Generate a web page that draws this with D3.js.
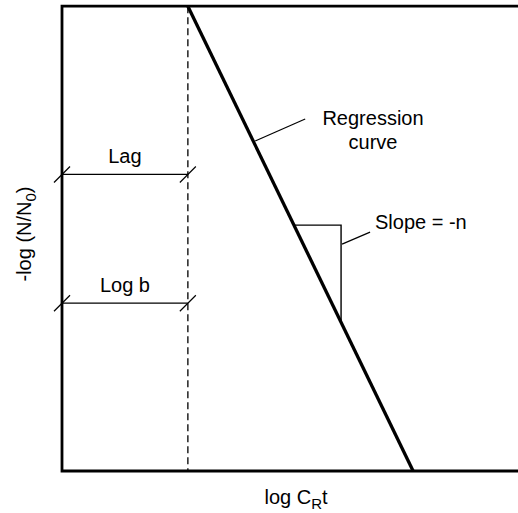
<!DOCTYPE html>
<html>
<head>
<meta charset="utf-8">
<script src="https://cdn.jsdelivr.net/npm/d3@7"></script>
<style>
  body { margin: 0; background: #fff; }
  text { font-family: "Liberation Sans", Arial, sans-serif; fill: #000; }
</style>
</head>
<body>
<div id="chart"></div>
<script>
// schematic values, arbitrary units (0..10 on both axes)
const LAG = 2.76;
const REGRESSION_X = [LAG, 7.7];
const REGRESSION_Y = [10, 0];
const MARKER_LABELS = ["Lag", "Log b"];
const MARKER_Y = [6.38, 3.61];
const SLOPE_X = [5.11, 6.12];
const SLOPE_TOP = 5.29;

const WIDTH = 518;
const HEIGHT = 513;
const LEFT = 62;
const TOP = 6;
const BOTTOM = 471;
const FONT = "20px";
const SUB = "15px";

const x = d3.scaleLinear().domain([0, 10]).range([LEFT, LEFT + 456]);
const y = d3.scaleLinear().domain([0, 10]).range([BOTTOM, TOP + 0.2]);

// position on the regression line
function lineY(v) {
  const t = (v - REGRESSION_X[0]) / (REGRESSION_X[1] - REGRESSION_X[0]);
  return REGRESSION_Y[0] + t * (REGRESSION_Y[1] - REGRESSION_Y[0]);
}
function lineX(v) {
  const t = (v - REGRESSION_Y[0]) / (REGRESSION_Y[1] - REGRESSION_Y[0]);
  return REGRESSION_X[0] + t * (REGRESSION_X[1] - REGRESSION_X[0]);
}

const svg = d3.select("#chart").append("svg")
    .attr("width", WIDTH)
    .attr("height", HEIGHT);

// dashed lag line
svg.append("line")
    .attr("x1", x(LAG)).attr("x2", x(LAG))
    .attr("y1", y(10)).attr("y2", y(0))
    .attr("stroke", "#222")
    .attr("stroke-width", 1.5)
    .attr("stroke-dasharray", "7,4");

// frame: left, top and bottom
svg.append("path")
    .attr("d", `M${WIDTH},${y(10)}H${x(0)}V${y(0)}H${WIDTH}`)
    .attr("fill", "none")
    .attr("stroke", "#000")
    .attr("stroke-width", 2.8);

// regression line
const line = d3.line().x(d => x(d[0])).y(d => y(d[1]));
svg.append("path")
    .attr("d", line(REGRESSION_X.map((d, i) => [d, REGRESSION_Y[i]])))
    .attr("fill", "none")
    .attr("stroke", "#000")
    .attr("stroke-width", 3.3);

// Lag / Log b dimension markers
const marker = svg.selectAll("g.marker")
  .data(MARKER_Y)
  .enter().append("g")
    .attr("class", "marker");

marker.append("line")
    .attr("x1", x(0)).attr("x2", x(LAG))
    .attr("y1", d => y(d)).attr("y2", d => y(d))
    .attr("stroke", "#000")
    .attr("stroke-width", 1.2);

[0, LAG].forEach(v => {
  marker.append("line")
      .attr("x1", x(v) - 8).attr("x2", x(v) + 8)
      .attr("y1", d => y(d) + 8).attr("y2", d => y(d) - 8)
      .attr("stroke", "#000")
      .attr("stroke-width", 1.2);
});

marker.append("text")
    .text((d, i) => MARKER_LABELS[i])
    .attr("x", x(LAG / 2))
    .attr("y", d => y(d) - 11)
    .attr("text-anchor", "middle")
    .style("font-size", FONT);

// slope triangle
const slopeBottom = lineY(SLOPE_X[1]);
svg.append("path")
    .attr("d", `M${x(lineX(SLOPE_TOP))},${y(SLOPE_TOP)}H${x(SLOPE_X[1])}V${y(slopeBottom)}`)
    .attr("fill", "none")
    .attr("stroke", "#000")
    .attr("stroke-width", 1.4);

// annotation leaders
const regLeaderY = 7.1;
svg.append("line")
    .attr("x1", x(lineX(regLeaderY)) + 2).attr("y1", y(regLeaderY))
    .attr("x2", x(lineX(regLeaderY)) + 52).attr("y2", y(regLeaderY) - 22)
    .attr("stroke", "#000")
    .attr("stroke-width", 1.2);

svg.append("line")
    .attr("x1", x(SLOPE_X[1]) + 1).attr("y1", y(SLOPE_TOP) + 19)
    .attr("x2", x(SLOPE_X[1]) + 29).attr("y2", y(SLOPE_TOP) + 7)
    .attr("stroke", "#000")
    .attr("stroke-width", 1.2);

const reg = svg.append("text")
    .attr("x", 373)
    .attr("y", 125)
    .attr("text-anchor", "middle")
    .style("font-size", FONT);
reg.append("tspan").attr("x", 373).text("Regression");
reg.append("tspan").attr("x", 373).attr("dy", 24).text("curve");

svg.append("text")
    .attr("x", 375)
    .attr("y", 229)
    .style("font-size", FONT)
    .text("Slope = -n");

// axis titles
const xt = svg.append("text")
    .attr("x", 296)
    .attr("y", 504)
    .attr("text-anchor", "middle")
    .style("font-size", FONT);
xt.append("tspan").text("log C");
xt.append("tspan").attr("dy", 5).style("font-size", SUB).text("R");
xt.append("tspan").attr("dy", -5).text("t");

const yt = svg.append("text")
    .attr("transform", `translate(31,${234}) rotate(-90)`)
    .attr("text-anchor", "middle")
    .style("font-size", FONT);
yt.append("tspan").text("-log (N/N");
yt.append("tspan").attr("dy", 5).style("font-size", SUB).text("0");
yt.append("tspan").attr("dy", -5).text(")");
</script>
</body>
</html>
